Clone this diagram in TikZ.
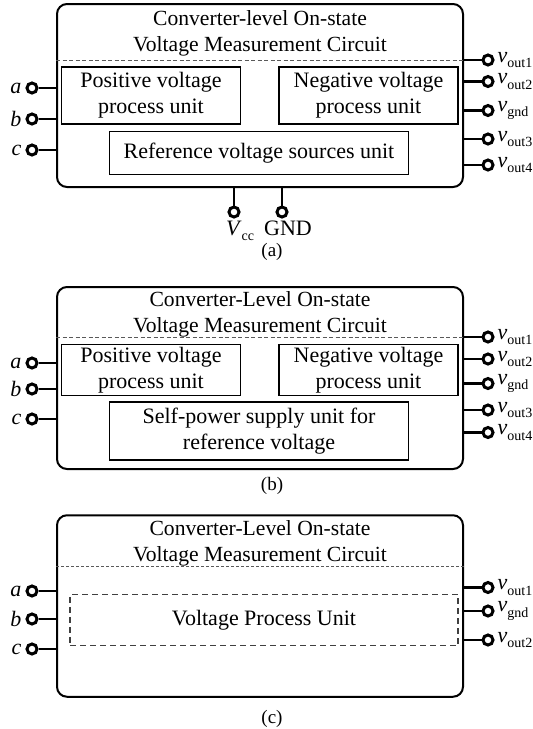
\documentclass[tikz,border=0pt]{standalone}
\usepackage{fontspec}
\setmainfont{Liberation Serif}
\usetikzlibrary{positioning}
\newcommand{\sig}[2]{\textit{#1}\raisebox{-0.55ex}{\fontsize{14}{14}\selectfont #2}}

\begin{document}
\begin{tikzpicture}[x=1pt, y=-1pt,
		outer/.style={rectangle, rounded corners=10pt, draw, line width=2pt, minimum width=406pt},
		unit/.style={rectangle, draw, line width=1.2pt, align=center, inner sep=0pt,
			font=\fontsize{22}{26}\selectfont},
		dunit/.style={unit, draw=black!75, dash pattern=on 6pt off 4pt},
		title/.style={align=center, font=\fontsize{21.6}{26}\selectfont},
		sep/.style={draw=black!65, line width=1pt, dash pattern=on 4pt off 2.5pt},
		term/.style={circle, draw, line width=3pt, inner sep=0pt, minimum size=10pt},
		wire/.style={line width=2.6pt},
		lbl/.style={font=\fontsize{22}{22}\selectfont, inner sep=1pt},
		lft/.style={label={[lbl, label distance=3pt]left:\textit{#1}}},
		rgt/.style={label={[lbl, label distance=2pt]right:#1}},
		captext/.style={font=\fontsize{19}{19}\selectfont},
		]
		\useasboundingbox (0,0) rectangle (533,729);

		% (a)
		\node[outer, minimum height=183pt] (boxA) at (260,95.5) {};
		\node[title] (titleA) at (260,33) {Converter-level On-state\\Voltage Measurement Circuit};
		\coordinate (sepA) at (260,60);
		\draw[sep] (boxA.west |- sepA) -- (boxA.east |- sepA);
		\node[unit, minimum width=179.5pt, minimum height=57pt] (posA) at (151,95.5) {Positive voltage\\process unit};
		\node[unit, minimum width=179pt, minimum height=57pt] (negA) at (368.5,95.5) {Negative voltage\\process unit};
		\node[unit, minimum width=299.5pt, minimum height=43.5pt] (refA) at (259,153) {Reference voltage sources unit};

		\node[term, lft=a] (aA) at (32,88) {};
		\node[term, lft=b] (bA) at (32,119) {};
		\node[term, lft=c] (cA) at (32,150) {};
		\draw[wire] (aA) -- (aA -| boxA.west);
		\draw[wire] (bA) -- (bA -| boxA.west);
		\draw[wire] (cA) -- (cA -| boxA.west);

		\node[term, rgt=\sig{v}{out1}] (o1A) at (488,60) {};
		\node[term, rgt=\sig{v}{out2}] (o2A) at (488,81.5) {};
		\node[term, rgt=\sig{v}{gnd}] (gA) at (488,110.5) {};
		\node[term, rgt=\sig{v}{out3}] (o3A) at (488,139) {};
		\node[term, rgt=\sig{v}{out4}] (o4A) at (488,165) {};
		\draw[wire] (o1A) -- (o1A -| boxA.east);
		\draw[wire] (o2A) -- (o2A -| boxA.east);
		\draw[wire] (gA) -- (gA -| boxA.east);
		\draw[wire] (o3A) -- (o3A -| boxA.east);
		\draw[wire] (o4A) -- (o4A -| boxA.east);

		\node[term] (vcc) at (234,212) {};
		\node[term] (gnd) at (282,212) {};
		\draw[wire] (vcc) -- (vcc |- boxA.south);
		\draw[wire] (gnd) -- (gnd |- boxA.south);
		\node[lbl, below=1pt of vcc, xshift=6pt] (vccl) {\sig{V}{cc}};
		\node[lbl, below=1pt of gnd, xshift=6pt] (gndl) {GND};

		\node[captext] (capA) at (272,252) {(a)};

		% (b)
		\node[outer, minimum height=182pt] (boxB) at (260,378) {};
		\node[title] (titleB) at (260,314) {Converter-Level On-state\\Voltage Measurement Circuit};
		\coordinate (sepB) at (260,337);
		\draw[sep] (boxB.west |- sepB) -- (boxB.east |- sepB);
		\node[unit, minimum width=179.5pt, minimum height=51.5pt] (posB) at (151,370) {Positive voltage\\process unit};
		\node[unit, minimum width=179pt, minimum height=51.5pt] (negB) at (368.5,370) {Negative voltage\\process unit};
		\node[unit, minimum width=299.5pt, minimum height=58pt] (supB) at (259,431) {Self-power supply unit for\\reference voltage};

		\node[term, lft=a] (aB) at (32,363) {};
		\node[term, lft=b] (bB) at (32,389) {};
		\node[term, lft=c] (cB) at (32,419) {};
		\draw[wire] (aB) -- (aB -| boxB.west);
		\draw[wire] (bB) -- (bB -| boxB.west);
		\draw[wire] (cB) -- (cB -| boxB.west);

		\node[term, rgt=\sig{v}{out1}] (o1B) at (488,337) {};
		\node[term, rgt=\sig{v}{out2}] (o2B) at (488,359) {};
		\node[term, rgt=\sig{v}{gnd}] (gB) at (488,383.5) {};
		\node[term, rgt=\sig{v}{out3}] (o3B) at (488,410) {};
		\node[term, rgt=\sig{v}{out4}] (o4B) at (488,432.5) {};
		\draw[wire] (o1B) -- (o1B -| boxB.east);
		\draw[wire] (o2B) -- (o2B -| boxB.east);
		\draw[wire] (gB) -- (gB -| boxB.east);
		\draw[wire] (o3B) -- (o3B -| boxB.east);
		\draw[wire] (o4B) -- (o4B -| boxB.east);

		\node[captext] (capB) at (272,486) {(b)};

		% (c)
		\node[outer, minimum height=181.5pt] (boxC) at (260,606) {};
		\node[title] (titleC) at (260,543) {Converter-Level On-state\\Voltage Measurement Circuit};
		\coordinate (sepC) at (260,566);
		\draw[sep, dash pattern=on 3pt off 2pt] (boxC.west |- sepC) -- (boxC.east |- sepC);
		\node[dunit, minimum width=388pt, minimum height=51.5pt] (procC) at (264,620) {Voltage Process Unit};

		\node[term, lft=a] (aC) at (32,591) {};
		\node[term, lft=b] (bC) at (32,619) {};
		\node[term, lft=c] (cC) at (32,649) {};
		\draw[wire] (aC) -- (aC -| boxC.west);
		\draw[wire] (bC) -- (bC -| boxC.west);
		\draw[wire] (cC) -- (cC -| boxC.west);

		\node[term, rgt=\sig{v}{out1}] (o1C) at (488,587.5) {};
		\node[term, rgt=\sig{v}{gnd}] (gC) at (488,611) {};
		\node[term, rgt=\sig{v}{out2}] (o2C) at (488,640) {};
		\draw[wire] (o1C) -- (o1C -| boxC.east);
		\draw[wire] (gC) -- (gC -| boxC.east);
		\draw[wire] (o2C) -- (o2C -| boxC.east);

		\node[captext] (capC) at (272,719) {(c)};
	\end{tikzpicture}
\end{document}
